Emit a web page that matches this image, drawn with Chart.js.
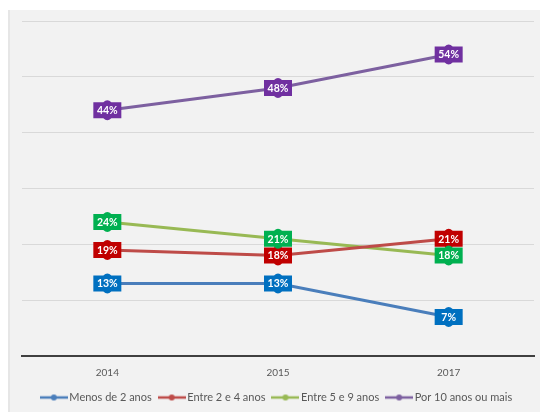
<!DOCTYPE html>
<html>
<head>
<meta charset="utf-8">
<script src="https://cdn.jsdelivr.net/npm/chart.js@4.4.1/dist/chart.umd.min.js"></script>
<style>
  html, body { margin: 0; padding: 0; background: #ffffff; }
  #wrap { position: relative; width: 545px; height: 412px; }
</style>
</head>
<body>
<div id="wrap"><canvas id="c" width="545" height="412"></canvas></div>
<script>
// Years on the horizontal axis
const years = ['2014', '2015', '2017'];

// Share of respondents (%) by time in the company
const menos2 = [13, 13, 7];
const entre2e4 = [19, 18, 21];
const entre5e9 = [24, 21, 18];
const por10 = [44, 48, 54];

const seriesNames = ['Menos de 2 anos', 'Entre 2 e 4 anos', 'Entre 5 e 9 anos', 'Por 10 anos ou mais'];
const lineColors = ['#4a7ebb', '#be4b48', '#98b954', '#7d60a0'];
const tagColors = ['#0070c0', '#c00000', '#00b050', '#7030a0'];

// Small line-with-dot swatch used in the legend
function swatch(color) {
  const cv = document.createElement('canvas');
  cv.width = 28; cv.height = 8;
  const g = cv.getContext('2d');
  g.strokeStyle = color; g.lineWidth = 2.5;
  g.beginPath(); g.moveTo(0, 4); g.lineTo(28, 4); g.stroke();
  g.fillStyle = color;
  g.beginPath(); g.arc(14, 4, 3, 0, Math.PI * 2); g.fill();
  return cv;
}

// Grey panel behind the chart
const panel = {
  id: 'panel',
  beforeDraw(chart) {
    const ctx = chart.ctx;
    ctx.save();
    ctx.fillStyle = '#f2f2f2';
    ctx.fillRect(8, 10, 532, 402);
    ctx.fillStyle = '#e6e6e6';
    ctx.fillRect(8, 10, 2, 402);
    ctx.restore();
  }
};

// Keep the legend band at a fixed height
const legendHeight = {
  id: 'legendHeight',
  afterInit(chart) {
    const lg = chart.legend;
    if (!lg) return;
    const fit = lg.fit;
    lg.fit = function () { fit.call(this); this.height = 30; };
  }
};

// Value tags drawn on top of each point
const tags = {
  id: 'tags',
  afterDatasetsDraw(chart) {
    const ctx = chart.ctx;
    chart.data.datasets.forEach((ds, di) => {
      const meta = chart.getDatasetMeta(di);
      meta.data.forEach((pt, i) => {
        const x = pt.x, y = pt.y;
        const w = 28, h = 16, b = 2;
        const l = x - w / 2, r = x + w / 2, t = y - h / 2, bt = y + h / 2;
        ctx.save();
        ctx.fillStyle = ds.tagColor;
        ctx.beginPath();
        ctx.moveTo(l, t);
        ctx.lineTo(x - 4, t);
        ctx.quadraticCurveTo(x, t - b * 2, x + 4, t);
        ctx.lineTo(r, t);
        ctx.lineTo(r, bt);
        ctx.lineTo(x + 4, bt);
        ctx.quadraticCurveTo(x, bt + b * 2, x - 4, bt);
        ctx.lineTo(l, bt);
        ctx.closePath();
        ctx.fill();
        ctx.fillStyle = '#ffffff';
        ctx.font = 'bold 10.5px Lato, "Open Sans", sans-serif';
        ctx.textAlign = 'center';
        ctx.textBaseline = 'middle';
        ctx.fillText(ds.data[i] + '%', x, y + 0.5);
        ctx.restore();
      });
    });
  }
};

const seriesData = [menos2, entre2e4, entre5e9, por10];
const datasets = seriesData.map((d, k) => ({
  label: seriesNames[k],
  data: d,
  borderColor: lineColors[k],
  backgroundColor: lineColors[k],
  tagColor: tagColors[k],
  borderWidth: 3,
  pointRadius: 0,
  pointStyle: swatch(lineColors[k]),
  tension: 0
}));

new Chart(document.getElementById('c'), {
  type: 'line',
  data: { labels: years, datasets },
  plugins: [panel, legendHeight, tags],
  options: {
    responsive: false,
    animation: false,
    layout: { padding: { left: 22, right: 11, top: 21, bottom: 0 } },
    plugins: {
      tooltip: { enabled: false },
      legend: {
        position: 'bottom',
        labels: {
          usePointStyle: true,
          pointStyleWidth: 20,
          boxHeight: 8,
          padding: 10,
          color: '#595959',
          font: { family: 'Lato, "Open Sans", sans-serif', size: 11 }
        }
      }
    },
    scales: {
      x: {
        offset: true,
        grid: { display: false, drawTicks: false },
        border: { display: true, color: '#404040', width: 2 },
        ticks: { color: '#595959', padding: 11, font: { family: 'Lato, "Open Sans", sans-serif', size: 10 } },
        afterFit(scale) { scale.height = 26; }
      },
      y: {
        min: 0,
        max: 60,
        ticks: { display: false, stepSize: 10 },
        grid: { color: '#d9d9d9', drawTicks: false },
        border: { display: false }
      }
    }
  }
});
</script>
</body>
</html>
